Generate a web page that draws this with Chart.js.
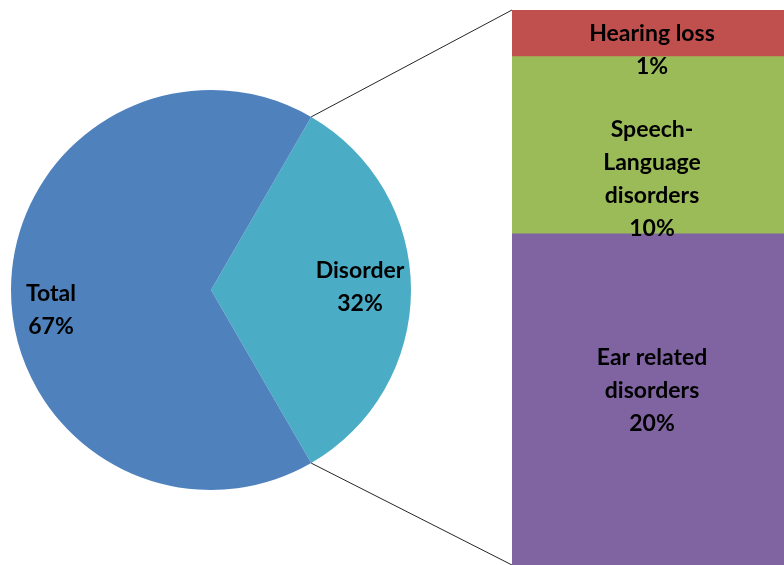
<!DOCTYPE html>
<html>
<head>
<meta charset="utf-8">
<script src="https://cdn.jsdelivr.net/npm/chart.js@4/dist/chart.umd.min.js"></script>
<style>
	html, body { margin: 0; padding: 0; background: #ffffff; }
	#wrap { position: relative; width: 784px; height: 565px; }
	#wrap canvas { position: absolute; left: 0; top: 0; }
</style>
</head>
<body>
<div id="wrap">
	<canvas id="pie" width="784" height="565"></canvas>
	<canvas id="bar" width="784" height="565"></canvas>
</div>
<script>
// pie: share of the whole
const pieLabels = ['Disorder', 'Total'];
const pieValues = [33.3, 66.7];
const pieText = ['32%', '67%'];
const pieColors = ['#4BACC6', '#4F81BD'];

// bar: split of the Disorder slice (bottom to top)
const barLabels = [['Ear related', 'disorders'], ['Speech-', 'Language', 'disorders'], ['Hearing loss']];
const barValues = [18.5, 9.9, 2.6];
const barText = ['20%', '10%', '1%'];
const barColors = ['#8064A2', '#9BBB59', '#C0504D'];

const FONT = 'bold 23px Lato, "Open Sans", sans-serif';
const LINE_H = 33;

Chart.defaults.animation = false;

const drawBlock = (ctx, lines, x, y) => {
	const top = y - (lines.length - 1) * LINE_H / 2;
	lines.forEach((t, i) => ctx.fillText(t, x, top + i * LINE_H));
};

const pieLabelPlugin = {
	id: 'pieLabels',
	afterDatasetsDraw: chart => {
		const ctx = chart.ctx;
		// label spots as fraction of radius, and extra vertical nudge
		const radial = [0.745, 0.80];
		const nudge = [-3, 20];
		ctx.save();
		ctx.font = FONT;
		ctx.fillStyle = '#000000';
		ctx.textAlign = 'center';
		ctx.textBaseline = 'middle';
		chart.getDatasetMeta(0).data.forEach((arc, i) => {
			const mid = (arc.startAngle + arc.endAngle) / 2;
			const r = arc.outerRadius * radial[i];
			const x = arc.x + Math.cos(mid) * r;
			const y = arc.y + Math.sin(mid) * r + nudge[i];
			drawBlock(ctx, [pieLabels[i], pieText[i]], x, y);
		});
		ctx.restore();
	}
};

const pieChart = new Chart(document.getElementById('pie'), {
	type: 'pie',
	data: {
		labels: pieLabels,
		datasets: [{
			data: pieValues,
			backgroundColor: pieColors,
			borderWidth: 0,
		}]
	},
	plugins: [pieLabelPlugin],
	options: {
		responsive: false,
		rotation: 90 - 180 * pieValues[0] / (pieValues[0] + pieValues[1]),
		layout: {padding: {left: 11, top: 90, right: 373, bottom: 75}},
		plugins: {legend: {display: false}, tooltip: {enabled: false}},
	}
});

const barLabelPlugin = {
	id: 'barLabels',
	afterDatasetsDraw: chart => {
		const ctx = chart.ctx;
		const shift = [-9, 34, 17];
		ctx.save();
		ctx.font = FONT;
		ctx.fillStyle = '#000000';
		ctx.textAlign = 'center';
		ctx.textBaseline = 'middle';
		chart.data.datasets.forEach((ds, i) => {
			const bar = chart.getDatasetMeta(i).data[0];
			const y = (bar.y + bar.base) / 2 + shift[i];
			drawBlock(ctx, [...barLabels[i], barText[i]], bar.x + 4, y);
		});

		// connector lines from the Disorder slice to the bar
		const arc = pieChart.getDatasetMeta(0).data[0];
		const top = chart.getDatasetMeta(barValues.length - 1).data[0];
		const bottom = chart.getDatasetMeta(0).data[0];
		ctx.strokeStyle = '#262626';
		ctx.lineWidth = 1;
		ctx.beginPath();
		ctx.moveTo(arc.x + Math.cos(arc.startAngle) * arc.outerRadius, arc.y + Math.sin(arc.startAngle) * arc.outerRadius);
		ctx.lineTo(top.x - top.width / 2, top.y);
		ctx.moveTo(arc.x + Math.cos(arc.endAngle) * arc.outerRadius, arc.y + Math.sin(arc.endAngle) * arc.outerRadius);
		ctx.lineTo(bottom.x - bottom.width / 2, bottom.base);
		ctx.stroke();
		ctx.restore();
	}
};

new Chart(document.getElementById('bar'), {
	type: 'bar',
	data: {
		labels: ['Disorder'],
		datasets: barValues.map((v, i) => ({
			label: barLabels[i].join(' '),
			data: [v],
			backgroundColor: barColors[i],
			borderWidth: 0,
			barPercentage: 1,
			categoryPercentage: 1,
		}))
	},
	plugins: [barLabelPlugin],
	options: {
		responsive: false,
		layout: {padding: {left: 512, top: 10, right: 0, bottom: 0}},
		scales: {
			x: {stacked: true, display: false},
			y: {stacked: true, display: false, min: 0, max: barValues.reduce((a, b) => a + b, 0)},
		},
		plugins: {legend: {display: false}, tooltip: {enabled: false}},
	}
});
</script>
</body>
</html>
